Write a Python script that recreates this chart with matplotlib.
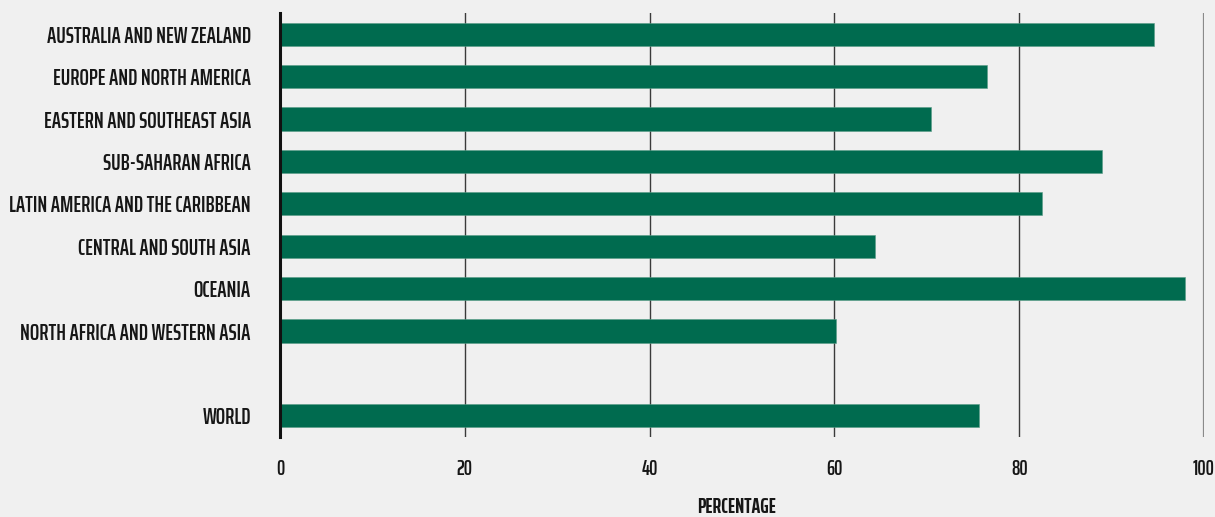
import matplotlib
matplotlib.use("Agg")
import matplotlib.pyplot as plt

regions = [
    "AUSTRALIA AND NEW ZEALAND",
    "EUROPE AND NORTH AMERICA",
    "EASTERN AND SOUTHEAST ASIA",
    "SUB-SAHARAN AFRICA",
    "LATIN AMERICA AND THE CARIBBEAN",
    "CENTRAL AND SOUTH ASIA",
    "OCEANIA",
    "NORTH AFRICA AND WESTERN ASIA",
    "WORLD",
]
values = [94.6, 76.5, 70.5, 89.0, 82.5, 64.4, 97.9, 60.2, 75.6]
x_ticks = [0, 20, 40, 60, 80, 100]
x_label = "PERCENTAGE"

FONT = ["Saira ExtraCondensed", "Barlow Condensed", "DejaVu Sans"]
BG = "#f0f0f0"
GREEN = "#006b4f"
TXT = "#161616"

# slot positions: one empty slot before WORLD
slots = list(range(len(regions) - 1)) + [len(regions)]

fig = plt.figure(figsize=(12.15, 5.17), dpi=100, facecolor=BG)
ax = fig.add_axes([280 / 1215, 1 - 437 / 517, (1204 - 280) / 1215, (437 - 13) / 517])
ax.set_facecolor(BG)

ax.barh(slots, values, height=0.55, color=GREEN, edgecolor="#5a9c86", linewidth=0.4, zorder=3)

ax.set_xlim(0, 100)
ax.set_ylim(len(regions) + 0.5, -0.5)
ax.set_xticks(x_ticks)
ax.set_xticklabels([str(t) for t in x_ticks], family=FONT, fontsize=15, weight=600, color=TXT)
ax.set_yticks(slots)
ax.set_yticklabels(regions, family=FONT, fontsize=16, weight=600, color=TXT)
ax.tick_params(axis="x", length=0, pad=16)
ax.tick_params(axis="y", length=0, pad=21)

for t in x_ticks[1:-1]:
    ax.axvline(t, color="#3a3a3a", linewidth=1.0, zorder=1)
ax.axvline(100, color="#8a8a8a", linewidth=1.6, zorder=1)

for s in ["top", "right", "bottom"]:
    ax.spines[s].set_visible(False)
ax.spines["left"].set_color("#111111")
ax.spines["left"].set_linewidth(2.2)
ax.spines["left"].set_zorder(4)

fig.text(737 / 1215, 1 - 497 / 517, x_label, family=FONT, fontsize=15, weight="bold",
         color=TXT, ha="center", va="top")

fig.savefig("out.png", dpi=100, facecolor=BG)
